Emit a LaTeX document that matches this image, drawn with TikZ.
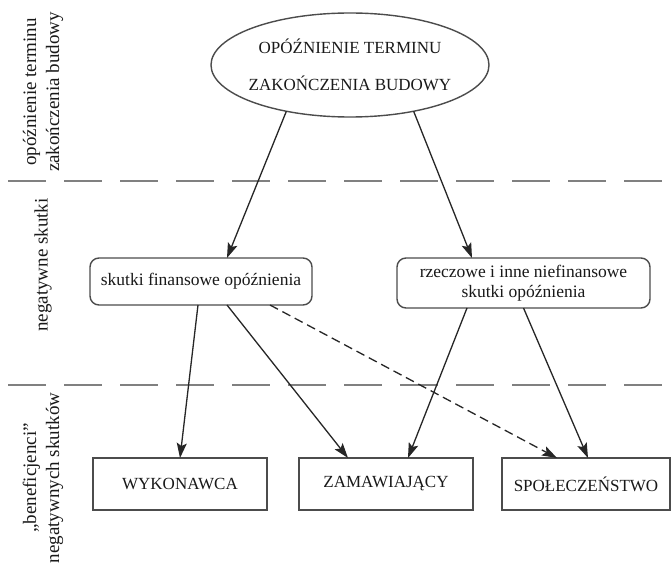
\documentclass[tikz,border=0pt]{standalone}
\usepackage{fontspec}
\setmainfont{Liberation Serif}
\usetikzlibrary{shapes.geometric,arrows.meta}
\begin{document}
\begin{tikzpicture}[x=1pt,y=-1pt,
  every node/.style={inner sep=0pt, outer sep=0pt, text=black!90},
  capbox/.style={draw=black!70, line width=1.4pt, minimum height=52pt, font=\fontsize{17}{20}\selectfont},
  roundbox/.style={draw=black!70, line width=1.4pt, rounded corners=9pt, font=\fontsize{17.5}{20}\selectfont, align=center},
  oval/.style={ellipse, draw=black!70, line width=1.4pt, minimum width=278pt, minimum height=104pt},
  ovaltext/.style={align=center, font=\fontsize{17}{20}\selectfont},
  sidelabel/.style={rotate=90, align=center, font=\fontsize{19}{23}\selectfont},
  arr/.style={line width=1.3pt, draw=black!85, -{Stealth[length=15pt,width=10pt,inset=3pt]}},
  sepline/.style={line width=2pt, draw=black!50, dash pattern=on 38pt off 18pt}
]
\fill[white] (0,0) rectangle (672,564);
\useasboundingbox (0,0) rectangle (672,564);

% separators
\coordinate (s1a) at (8,181); \coordinate (s1b) at (672,181);
\coordinate (s2a) at (8,385); \coordinate (s2b) at (672,385);
\draw[sepline] (s1a) -- (s1b);
\draw[sepline] (s2a) -- (s2b);

% side labels
\node[sidelabel] (l1) at (43,92) {opóźnienie terminu\\zakończenia budowy};
\node[sidelabel] (l2) at (43,265) {negatywne skutki};
\node[sidelabel] (l3) at (43,478) {„beneficjenci”\\negatywnych skutków};

% top ellipse
\node[oval] (el) at (350,65) {};
\node[ovaltext] (elt) at (el.center) {OPÓŹNIENIE TERMINU\\[17pt]ZAKOŃCZENIA BUDOWY};

% middle boxes
\node[roundbox, minimum width=222pt, minimum height=47pt] (lb) at (201,281.5) {skutki finansowe opóźnienia};
\node[roundbox, minimum width=253pt, minimum height=50pt] (rb) at (523.5,283) {rzeczowe i inne niefinansowe\\skutki opóźnienia};

% bottom boxes
\node[capbox, minimum width=174pt] (w) at (180,484) {WYKONAWCA};
\node[capbox, minimum width=174pt] (z) at (386,484) {ZAMAWIAJĄCY};
\node[capbox, minimum width=168pt] (s) at (586,484) {SPOŁECZEŃSTWO};

% connectors
\draw[arr] (el.216) -- ([xshift=26pt]lb.north);
\draw[arr] (el.324) -- ([xshift=-51.5pt]rb.north);
\draw[arr] ([xshift=-3pt]lb.south) -- (w.north);
\draw[arr] ([xshift=26pt]lb.south) -- ([xshift=-38pt]z.north);
\draw[arr, dash pattern=on 9pt off 5pt] ([xshift=69pt]lb.south) -- ([xshift=-29pt]s.north);
\draw[arr] ([xshift=-56.5pt]rb.south) -- ([xshift=22pt]z.north);
\draw[arr] (rb.south) -- ([xshift=2pt]s.north);
\end{tikzpicture}
\end{document}
